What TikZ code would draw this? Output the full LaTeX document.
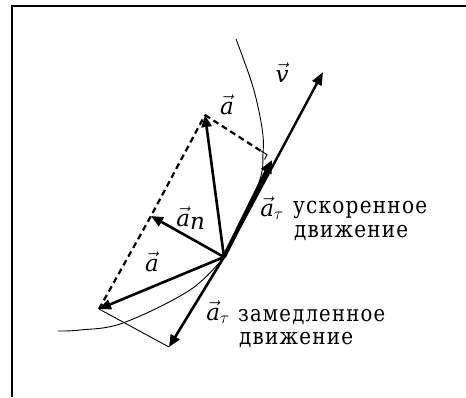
\documentclass[tikz,border=0pt]{standalone}
\usepackage{fontspec}
\setmainfont{Liberation Serif}
\newfontfamily\rusfam[LetterSpace=6]{DejaVu Serif}
\newfontfamily\labfam{DejaVu Serif}
\usetikzlibrary{arrows.meta}
\newcommand{\vlab}[1]{\ensuremath{\vec{\mbox{\labfam\itshape #1}}}}
\newcommand{\rustxt}[2]{\scalebox{1}[1.15]{\resizebox{#1}{!}{\rusfam\fontsize{20}{22}\selectfont #2}}}
\tikzset{
  vecline/.style={line width=2.6pt,-{Triangle[length=12pt,width=10pt]}},
  thinline/.style={line width=0.9pt},
  dashline/.style={line width=2.2pt,dash pattern=on 6pt off 4pt},
  lbl/.style={inner sep=0pt,anchor=base,font=\fontsize{23}{26}\selectfont},
  rus/.style={inner sep=0pt,anchor=base west}
}
\begin{document}
\begin{tikzpicture}[x=1pt,y=-1pt]
\useasboundingbox (0,0) rectangle (466,397);
\fill[white] (0,0) rectangle (466,397);
% frame
\draw[line width=1.6pt] (12,397) -- (12,6) -- (466,6);
% points
\coordinate (O) at (224,257);
\coordinate (V) at (323,72);
\coordinate (At) at (272,160);
\coordinate (A1) at (205,115);
\coordinate (An) at (151,216);
\coordinate (A2) at (99,309);
\coordinate (Ad) at (169,347);
\coordinate (F) at (261,151);
% trajectory
\draw[thinline] plot[smooth,tension=0.6] coordinates {(236,39) (253,87) (262,128) (263,153) (258,185) (224,257)};
\draw[thinline] plot[smooth,tension=0.6] coordinates {(224,257) (190,290) (123,323) (80,330) (58,331)};
% dashed construction lines
\draw[dashline] (A2) -- (An) -- (A1);
\draw[dashline] (A1) -- (F);
\draw[line width=0.9pt] (F) -- ++(6,3.5) -- ++(-2.5,5);
% thin line
\draw[thinline] (A2) -- (Ad);
% vectors
\draw[line width=2.4pt,-{Triangle[length=13pt,width=10pt]}] (O) -- (V);
\draw[line width=4pt,-{Triangle[length=13pt,width=11pt]}] (O) -- (At);
\draw[vecline] (O) -- (A1);
\draw[vecline] (O) -- (An);
\draw[vecline] (O) -- (A2);
\draw[vecline] (O) -- (Ad);
% labels
\node[lbl] (lv) at (282,82) {\vlab{v}};
\node[lbl] (la1) at (227,114) {\vlab{a}};
\node[lbl] (lan) at (191,226) {\vlab{a}$_{\mbox{\labfam\itshape n}}$};
\node[lbl] (la2) at (152,271) {\vlab{a}};
\node[lbl] (lat1) at (272,216) {\vlab{a}$_{\tau}$};
\node[lbl] (lat2) at (218,320) {\vlab{a}$_{\tau}$};
\node[rus] (t1) at (293,213) {\rustxt{134pt}{ускоренное}};
\node[rus] (t2) at (294,237) {\rustxt{114pt}{движение}};
\node[rus] (t3) at (238,321) {\rustxt{147pt}{замедленное}};
\node[rus] (t4) at (239,344) {\rustxt{114pt}{движение}};
\end{tikzpicture}
\end{document}
